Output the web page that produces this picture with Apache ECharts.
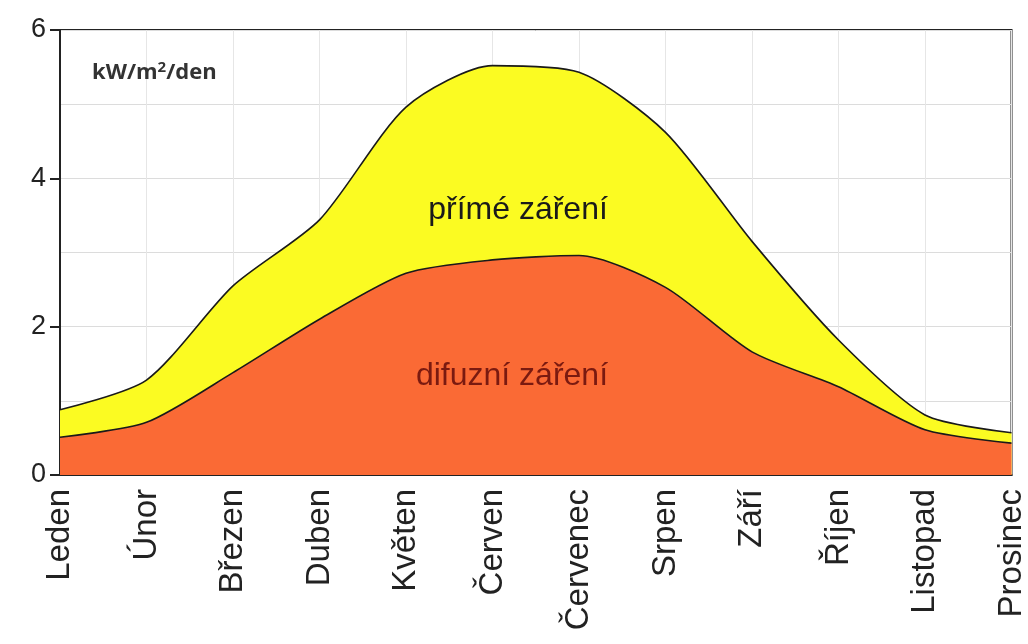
<!DOCTYPE html>
<html>
<head>
<meta charset="utf-8">
<script src="https://cdn.jsdelivr.net/npm/echarts@6/dist/echarts.min.js"></script>
<style>
  html, body { margin: 0; padding: 0; background: #fff; }
  #chart { width: 1028px; height: 644px; }
</style>
</head>
<body>
<div id="chart"></div>
<script>
const months = ['Leden', 'Únor', 'Březen', 'Duben', 'Květen', 'Červen',
  'Červenec', 'Srpen', 'Září', 'Říjen', 'Listopad', 'Prosinec']
// celkové záření (horní čára) a difuzní záření (dolní čára), kW/m2/den
const totalRadiation = [0.88, 1.28, 2.55, 3.44, 4.96, 5.52, 5.43, 4.62, 3.15, 1.82, 0.81, 0.57]
const diffuseRadiation = [0.51, 0.71, 1.38, 2.1, 2.72, 2.9, 2.96, 2.53, 1.66, 1.19, 0.61, 0.43]
const yTicks = [0, 2, 4, 6]

const font = 'Liberation Sans, Arial, sans-serif'
const chart = echarts.init(document.getElementById('chart'))

chart.setOption({
  animation: false,
  grid: {
    left: 60,
    right: 13,
    top: 30,
    bottom: 169,
    show: true,
    borderColor: '#222',
    borderWidth: 2,
    backgroundColor: 'transparent'
  },
  xAxis: {
    type: 'category',
    data: months,
    boundaryGap: false,
    axisLine: { lineStyle: { color: '#222', width: 2 } },
    axisTick: { show: false },
    splitLine: { show: true, lineStyle: { color: '#e6e6e6', width: 1 } },
    axisLabel: {
      rotate: 90,
      margin: 14,
      interval: 0,
      fontSize: 33,
      fontFamily: font,
      color: '#222'
    }
  },
  yAxis: {
    type: 'value',
    min: yTicks[0],
    max: yTicks[yTicks.length - 1],
    interval: 2,
    axisLine: { show: true, lineStyle: { color: '#222', width: 2 } },
    axisTick: { show: true, length: 10, lineStyle: { color: '#222', width: 2 } },
    axisLabel: { margin: 14, fontSize: 27, fontFamily: font, color: '#222' },
    splitLine: { show: true, lineStyle: { color: '#dcdcdc', width: 1 } },
    minorTick: { show: false, splitNumber: 2 },
    minorSplitLine: { show: true, lineStyle: { color: '#dcdcdc', width: 1 } }
  },
  series: [
    {
      name: 'přímé záření',
      type: 'line',
      data: totalRadiation,
      smooth: 0.25,
      showSymbol: false,
      lineStyle: { color: '#1a1a1a', width: 1.6 },
      areaStyle: { color: '#fbfb22', opacity: 1 },
      z: 2
    },
    {
      name: 'difuzní záření',
      type: 'line',
      data: diffuseRadiation,
      smooth: 0.25,
      showSymbol: false,
      lineStyle: { color: '#1a1a1a', width: 1.6 },
      areaStyle: { color: '#fa6a35', opacity: 1 },
      z: 3
    }
  ],
  graphic: [
    {
      type: 'text',
      left: 92,
      top: 60,
      z: 10,
      style: {
        text: '{a|kW/m}{s|2}{a|/den}',
        rich: {
          a: { fontSize: 22, fontWeight: 'bold', fontFamily: 'Open Sans, sans-serif', fill: '#333', verticalAlign: 'bottom' },
          s: { fontSize: 15, fontWeight: 'bold', fontFamily: 'Open Sans, sans-serif', fill: '#333', verticalAlign: 'top', padding: [0, 0, 9, 0] }
        }
      }
    },
    {
      type: 'text',
      x: 518,
      y: 210,
      z: 10,
      style: {
        text: 'přímé záření',
        fontSize: 32,
        fontFamily: font,
        fill: '#1a1a1a',
        align: 'center',
        verticalAlign: 'middle'
      }
    },
    {
      type: 'text',
      x: 512,
      y: 376,
      z: 10,
      style: {
        text: 'difuzní záření',
        fontSize: 32,
        fontFamily: font,
        fill: '#7a1a10',
        align: 'center',
        verticalAlign: 'middle'
      }
    }
  ]
})
</script>
</body>
</html>
